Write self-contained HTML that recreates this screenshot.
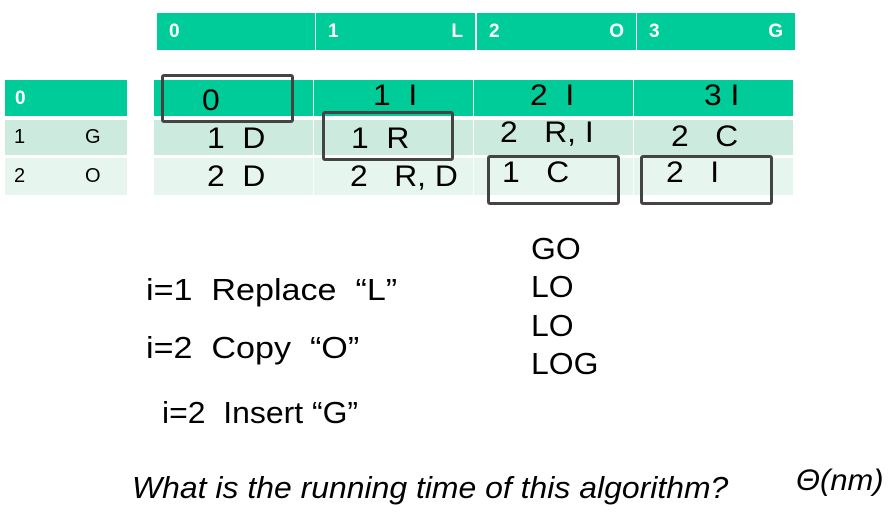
<!DOCTYPE html><html><head><style>
body{margin:0;width:893px;height:523px;background:#fff;position:relative;font-family:"Liberation Sans",Arial,sans-serif;overflow:hidden}
.a{position:absolute;box-sizing:border-box}
.h{background:#00cc99;color:#fff;font-weight:bold;font-size:19px;line-height:37px;padding:0 12px}
.g{background:#00cc99}.m{background:#cceadd}.l{background:#e6f5ee}
.b{border:3px solid #444;border-radius:3px}
.t{font-size:30px;color:#000;white-space:pre;transform:scaleX(1.06);transform-origin:0 0}
.u{font-size:31px;color:#000;white-space:pre;transform:scaleX(1.03);transform-origin:0 0}
.w{transform:scaleX(1.1)}
</style></head><body>
<div class="a h" style="left:157px;top:13px;width:158px;height:37px">0</div>
<div class="a h" style="left:316px;top:13px;width:159px;height:37px">1<span style="float:right">L</span></div>
<div class="a h" style="left:477px;top:13px;width:159px;height:37px">2<span style="float:right">O</span></div>
<div class="a h" style="left:637px;top:13px;width:158px;height:37px">3<span style="float:right">G</span></div>

<div class="a h" style="left:5px;top:80px;width:122px;height:36px;padding-left:10px">0</div>
<div class="a m" style="left:5px;top:120px;width:122px;height:35px;font-size:20px;line-height:35px"><span style="position:absolute;left:9px">1</span><span style="position:absolute;left:80px">G</span></div>
<div class="a l" style="left:5px;top:158px;width:122px;height:37px;font-size:20px;line-height:37px"><span style="position:absolute;left:9px">2</span><span style="position:absolute;left:80px">O</span></div>

<div class="a g" style="left:154px;top:80px;width:159px;height:36px"></div>
<div class="a g" style="left:314px;top:80px;width:159px;height:36px"></div>
<div class="a g" style="left:474px;top:80px;width:159px;height:36px"></div>
<div class="a g" style="left:634px;top:80px;width:159px;height:36px"></div>
<div class="a m" style="left:154px;top:120px;width:159px;height:35px"></div>
<div class="a m" style="left:314px;top:120px;width:159px;height:35px"></div>
<div class="a m" style="left:474px;top:120px;width:159px;height:35px"></div>
<div class="a m" style="left:634px;top:120px;width:159px;height:35px"></div>
<div class="a l" style="left:154px;top:158px;width:159px;height:37px"></div>
<div class="a l" style="left:314px;top:158px;width:159px;height:37px"></div>
<div class="a l" style="left:474px;top:158px;width:159px;height:37px"></div>
<div class="a l" style="left:634px;top:158px;width:159px;height:37px"></div>

<div class="a t" style="left:202px;top:84px">0</div>
<div class="a t" style="left:373px;top:79px">1  I</div>
<div class="a t" style="left:530px;top:79px">2  I</div>
<div class="a t" style="left:704px;top:79px">3 I</div>
<div class="a t" style="left:207px;top:122px">1  D</div>
<div class="a t" style="left:351px;top:122px">1  R</div>
<div class="a t" style="left:500px;top:116px">2   R, I</div>
<div class="a t" style="left:671px;top:120px">2   C</div>
<div class="a t" style="left:207px;top:160px">2  D</div>
<div class="a t" style="left:350px;top:160px">2   R, D</div>
<div class="a t" style="left:502px;top:156px">1   C</div>
<div class="a t" style="left:666px;top:156px">2   I</div>

<div class="a b" style="left:161px;top:74px;width:133px;height:49px"></div>
<div class="a b" style="left:322px;top:111px;width:132px;height:50px"></div>
<div class="a b" style="left:487px;top:155px;width:133px;height:50px"></div>
<div class="a b" style="left:640px;top:155px;width:133px;height:50px"></div>

<div class="a u" style="left:531px;top:231px">GO</div>
<div class="a u" style="left:531px;top:269px">LO</div>
<div class="a u" style="left:531px;top:308px">LO</div>
<div class="a u" style="left:531px;top:346px">LOG</div>

<div class="a u w" style="left:146px;top:272px">i=1  Replace  “L”</div>
<div class="a u w" style="left:146px;top:330px">i=2  Copy  “O”</div>
<div class="a u" style="left:162px;top:395px">i=2  Insert “G”</div>
<div class="a u" style="left:132px;top:470px;font-style:italic">What is the running time of this algorithm?</div>
<div class="a u" style="left:796px;top:464px;font-style:italic;font-size:30px">Θ(nm)</div>
</body></html>
